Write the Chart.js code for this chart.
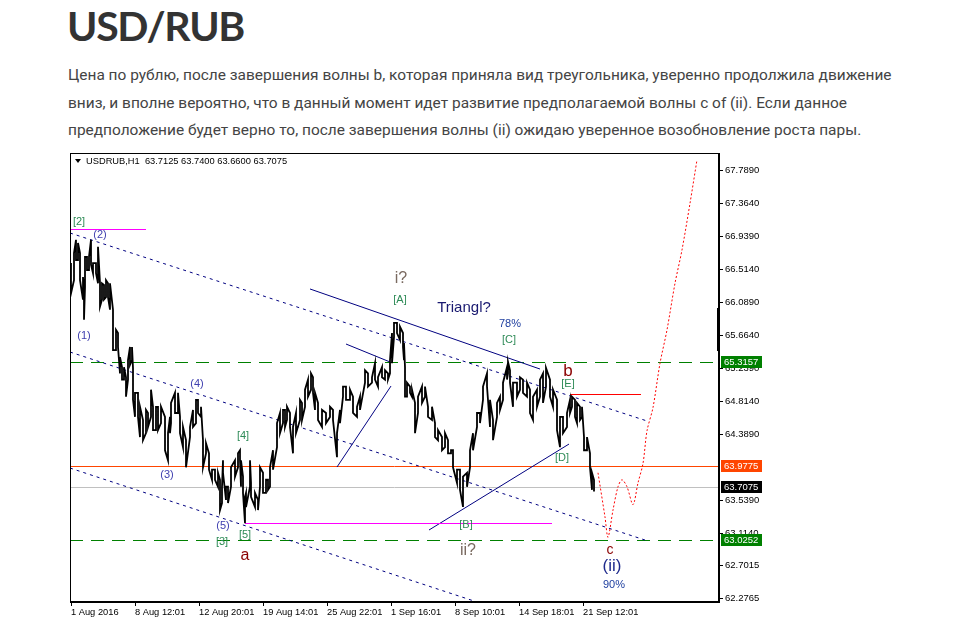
<!DOCTYPE html>
<html>
<head>
<meta charset="utf-8">
<script src="https://cdn.jsdelivr.net/npm/chart.js@4.4.0/dist/chart.umd.min.js"></script>
<style>
  body { margin: 0; background: #fff; width: 961px; height: 627px; overflow: hidden; position: relative; }
  h1 { position: absolute; left: 67px; top: 5px; margin: 0; font: 700 41px/41px Lato, sans-serif; color: #333; letter-spacing: -1.3px; }
  .txt { position: absolute; left: 68px; top: 62px; margin: 0; font: 15.45px/27.5px Roboto, sans-serif; color: #444; white-space: nowrap; }
  #wrap { position: absolute; left: 60px; top: 145px; width: 780px; height: 482px; }
</style>
</head>
<body>
<h1>USD/RUB</h1>
<p class="txt">Цена по рублю, после завершения волны b, которая приняла вид треугольника, уверенно продолжила движение<br>вниз, и вполне вероятно, что в данный момент идет развитие предполагаемой волны c of (ii). Если данное<br>предположение будет верно то, после завершения волны (ii) ожидаю уверенное возобновление роста пары.</p>
<div id="wrap"><canvas id="chart" width="780" height="482"></canvas></div>
<script>
// ---- price bars (H1, sampled): bar index, high, low ----
const barIdx = [0,3,5,7,9,12,13,14,16,18,20,22,25,27,29,31,33,35,37,39,42,45,47,49,51,53,55,57,59,61,62,64,67,69,72,75,77,80,82,85,87,90,94,97,99,100,104,107,109,112,115,119,122,125,127,130,132,135,138,141,144,147,149,151,152,155,157,160,164,167,169,170,172,174,175,179,180,184,187,189,192,195,197,199,202,206,209,212,214,216,219,222,225,229,231,234,237,240,242,244,247,251,255,259,262,266,269,272,275,279,282,286,289,294,297,301,304,307,311,314,317,319,321,323,326,329,332,333,334,336,339,341,344,347,351,354,357,361,364,367,371,374,377,380,382,386,389,392,396,399,402,406,409,412,416,419,422,426,429,432,436,437,439,442,446,449,452,456,459,462,466,469,472,475,479,482,486,489,492,496,499,501,504,506,509,511,513,516,519,521,523];
const barHigh = [66.59,66.72,66.89,66.85,66.72,66.41,66.24,66.67,66.67,66.67,66.89,66.59,66.59,66.80,66.33,66.33,66.31,66.37,66.33,66.33,65.99,65.73,65.69,65.38,65.25,65.25,65.12,65.34,65.51,65.51,65.24,64.92,64.92,64.74,64.57,64.70,64.66,64.96,64.74,64.74,64.74,64.74,64.61,64.40,64.61,64.79,64.92,64.92,64.61,64.48,64.31,64.48,64.70,64.83,64.83,64.74,64.31,64.27,64.14,63.93,63.93,63.89,63.80,63.71,64.05,63.71,63.71,63.96,64.05,64.14,64.18,64.05,63.84,63.58,63.63,64.05,63.76,63.63,63.54,63.96,63.89,63.80,63.80,63.96,64.18,64.53,64.66,64.70,64.70,64.74,64.66,64.48,64.66,64.83,64.79,64.96,65.09,65.17,65.12,64.92,64.79,64.70,64.66,64.74,64.70,64.40,64.70,65.00,65.00,64.96,64.87,64.74,64.87,65.21,65.17,65.12,65.30,65.12,65.25,65.21,65.17,65.34,65.69,65.82,65.82,65.77,65.69,65.56,65.25,65.05,65.00,64.96,64.79,64.87,65.00,65.00,64.74,64.74,64.53,64.44,64.35,64.40,64.31,64.18,64.18,63.93,63.93,63.84,63.89,64.18,64.40,64.66,64.66,65.00,65.17,64.83,64.57,64.79,64.87,65.05,65.25,65.32,65.21,65.05,65.05,65.12,65.09,65.05,64.96,64.87,64.96,65.09,65.17,65.24,65.09,64.96,64.83,64.61,64.61,64.66,64.83,64.87,64.83,64.79,64.74,64.74,64.35,64.35,64.14,63.89,63.80];
const barLow = [66.20,66.37,66.63,66.63,66.37,66.12,65.86,66.28,66.50,66.50,66.57,66.46,66.46,66.33,66.03,66.12,66.12,66.15,66.15,65.99,65.47,65.47,65.51,65.17,65.09,65.09,64.87,65.09,65.28,65.34,64.83,64.61,64.61,64.35,64.31,64.40,64.48,64.61,64.44,64.44,64.44,64.53,64.18,64.05,64.40,64.53,64.66,64.66,64.40,64.22,63.96,64.35,64.48,64.53,64.66,64.61,63.96,64.14,63.93,63.80,63.80,63.71,63.41,63.50,63.89,63.54,63.50,63.71,63.84,63.96,64.05,63.71,63.63,63.24,63.45,63.71,63.58,63.45,63.41,63.71,63.63,63.63,63.67,63.71,63.93,64.22,64.40,64.53,64.48,64.57,64.48,64.14,64.40,64.57,64.57,64.74,64.87,64.96,64.92,64.70,64.57,64.48,64.53,64.61,64.57,64.09,64.53,64.87,64.83,64.83,64.66,64.61,64.70,65.05,65.00,65.05,65.09,65.00,65.12,65.09,65.09,65.17,65.30,65.64,65.69,65.60,65.51,65.34,64.87,64.87,64.92,64.87,64.40,64.66,64.79,64.87,64.61,64.57,64.35,64.31,64.18,64.22,64.14,64.14,63.96,63.76,63.67,63.45,63.71,63.96,64.18,64.48,64.53,64.83,65.00,64.48,64.31,64.61,64.70,64.83,65.09,65.17,65.05,64.74,64.87,64.96,64.92,64.87,64.66,64.57,64.74,64.87,64.79,65.00,64.87,64.74,64.44,64.22,64.40,64.48,64.66,64.74,64.61,64.53,64.57,64.61,64.18,64.18,63.96,63.67,63.65];

// ---- forecast path (red dotted) ----
const fcIdx   = [527,534,537,542,547,551,556,562,567,572,576,582,589,596,604,611,619,626];
const fcPrice = [63.89,63.32,63.06,63.41,63.71,63.80,63.71,63.48,63.76,64.01,64.43,64.73,65.30,65.73,66.33,66.76,67.36,67.92];

// ---- axes ----
const yTicks = [67.7890,67.3640,66.9390,66.5140,66.0890,65.6640,65.2390,64.8140,64.3890,63.5390,63.1140,62.7015,62.2765];
const xTickIdx = [0,64,128,192,256,320,384,448,512];
const xTickLabels = ['1 Aug 2016','8 Aug 12:01','12 Aug 20:01','19 Aug 14:01','25 Aug 22:01','1 Sep 16:01','8 Sep 10:01','14 Sep 18:01','21 Sep 12:01'];

// ---- horizontal levels ----
const levelPrice = [65.3157, 63.9775, 63.7075, 63.0252];
const levelColor = ['#008000', '#ff4500', '#c0c0c0', '#008000'];
const levelDash  = [[13,8], [], [], [13,8]];
const levelTagBg = ['#008000', '#ff4500', '#000000', '#008000'];

// ---- trend lines: x1, p1, x2, p2 ----
const lineX1 = [-1, -1, -1, 239, 275, 266, 358, -1, 174, 499];
const lineP1 = [66.978, 65.445, 63.951, 66.257, 65.548, 63.964, 63.153, 67.029, 63.243, 64.904];
const lineX2 = [576, 574, 406, 469, 319, 320, 498, 75, 481, 570];
const lineP2 = [64.557, 63.024, 62.226, 65.226, 65.317, 65.007, 64.260, 67.029, 63.243, 64.904];
const lineColor = ['#000080','#000080','#000080','#000080','#000080','#000080','#000080','#ff00ff','#ff00ff','#ff0000'];
const lineDotted = [true, true, true, false, false, false, false, false, false, false];

// ---- wave labels ----
const lblText  = ['[2]','(2)','(1)','(3)','(4)','(5)','[3]','[4]','[5]','a','i?','[A]','Triangl?','78%','[C]','b','[E]','[D]','[B]','ii?','c','(ii)','90%'];
const lblIdx   = [8, 29, 13, 96, 126, 152, 151, 172, 174, 174, 330, 329, 393, 439, 438, 497, 497, 491, 395, 397, 539, 541, 543];
const lblPrice = [67.119, 66.952, 65.651, 63.861, 65.033, 63.204, 62.998, 64.363, 63.089, 62.818, 66.385, 66.115, 66.012, 65.806, 65.600, 65.200, 65.033, 64.080, 63.217, 62.883, 62.895, 62.689, 62.445];
const lblColor = ['#2e8b57','#4040b0','#4040b0','#4040b0','#4040b0','#4040b0','#2e8b57','#2e8b57','#2e8b57','#8b0000','#7a6a60','#2e8b57','#191970','#2040a0','#2e8b57','#8b0000','#2e8b57','#2e8b57','#2e8b57','#7a6a60','#8b0000','#1e2a8c','#2040a0'];
const lblSize  = [11, 11, 11, 11, 11, 11, 11, 11, 11, 16, 16, 11, 15, 11, 11, 17, 11, 11, 11, 16, 14, 17, 11];

// zigzag through high/low of each sampled bar
const pricePts = [];
barIdx.forEach((x, i) => {
  if (i % 2 === 0) pricePts.push({x: x, y: barHigh[i]}, {x: x, y: barLow[i]});
  else pricePts.push({x: x, y: barLow[i]}, {x: x, y: barHigh[i]});
});

const FONT = '"Liberation Sans", Arial, sans-serif';

const overlay = {
  id: 'overlay',
  beforeDatasetsDraw(chart) {
    const {ctx, chartArea: a, scales: {x, y}} = chart;
    ctx.save();
    ctx.beginPath();
    ctx.rect(a.left, a.top, a.right - a.left, a.bottom - a.top);
    ctx.clip();
    ctx.lineWidth = 1;
    levelPrice.forEach((p, i) => {
      const py = Math.round(y.getPixelForValue(p)) + 0.5;
      ctx.strokeStyle = levelColor[i];
      ctx.setLineDash(levelDash[i]);
      ctx.beginPath();
      ctx.moveTo(a.left, py);
      ctx.lineTo(a.right, py);
      ctx.stroke();
    });
    lineX1.forEach((x1, i) => {
      let y1 = y.getPixelForValue(lineP1[i]), y2 = y.getPixelForValue(lineP2[i]);
      if (lineP1[i] === lineP2[i]) { y1 = y2 = Math.round(y1) + 0.5; }  // crisp horizontals
      ctx.strokeStyle = lineColor[i];
      ctx.setLineDash(lineDotted[i] ? [3, 4] : []);
      ctx.beginPath();
      ctx.moveTo(x.getPixelForValue(x1), y1);
      ctx.lineTo(x.getPixelForValue(lineX2[i]), y2);
      ctx.stroke();
    });
    ctx.restore();
  },
  afterDraw(chart) {
    const {ctx, chartArea: a, scales: {x, y}} = chart;
    ctx.save();
    // frame
    ctx.strokeStyle = '#000';
    ctx.lineWidth = 1;
    ctx.strokeRect(a.left + 0.5, a.top + 0.5, a.right - a.left - 1, a.bottom - a.top - 1);
    // chart shift marker on the right edge
    ctx.fillStyle = '#000';
    const m1 = y.getPixelForValue(66.012), m2 = y.getPixelForValue(65.458);
    ctx.fillRect(a.right - 2, m1, 3, m2 - m1);
    // header
    ctx.font = '9.3px ' + FONT;
    ctx.textBaseline = 'middle';
    ctx.textAlign = 'left';
    ctx.beginPath();
    ctx.moveTo(a.left + 5, a.top + 6);
    ctx.lineTo(a.left + 11, a.top + 6);
    ctx.lineTo(a.left + 8, a.top + 10);
    ctx.closePath();
    ctx.fill();
    ctx.fillText('USDRUB,H1  63.7125 63.7400 63.6600 63.7075', a.left + 16, a.top + 8);
    // wave labels
    ctx.textAlign = 'center';
    lblText.forEach((t, i) => {
      ctx.font = lblSize[i] + 'px ' + FONT;
      ctx.fillStyle = lblColor[i];
      ctx.fillText(t, x.getPixelForValue(lblIdx[i]), y.getPixelForValue(lblPrice[i]));
    });
    // price tags on the axis
    ctx.font = '9.5px ' + FONT;
    ctx.textAlign = 'left';
    levelPrice.forEach((p, i) => {
      const py = Math.round(y.getPixelForValue(p));
      ctx.fillStyle = levelTagBg[i];
      ctx.fillRect(a.right + 2, py - 6, 41, 12);
      ctx.fillStyle = '#fff';
      ctx.fillText(p.toFixed(4), a.right + 5, py + 0.5);
    });
    ctx.restore();
  }
};

new Chart(document.getElementById('chart'), {
  type: 'line',
  data: {
    datasets: [
      {
        data: pricePts,
        borderColor: '#000',
        borderWidth: 1.8,
        pointRadius: 0,
        tension: 0
      },
      {
        data: fcIdx.map((v, i) => ({x: v, y: fcPrice[i]})),
        borderColor: '#ff0000',
        borderWidth: 1,
        borderDash: [2, 2],
        pointRadius: 0,
        tension: 0.3
      }
    ]
  },
  options: {
    responsive: false,
    animation: false,
    layout: { padding: { left: 10, top: 8, right: 0, bottom: 0 } },
    plugins: { legend: { display: false }, tooltip: { enabled: false } },
    scales: {
      x: {
        type: 'linear', min: -1, max: 648,
        afterBuildTicks: s => { s.ticks = xTickIdx.map(v => ({ value: v })); },
        afterFit: s => { s.height = 25; },
        ticks: {
          autoSkip: false, maxRotation: 0, align: 'start', padding: 1,
          color: '#000', font: { family: FONT, size: 9.3 },
          callback: (v, i) => xTickLabels[i]
        },
        grid: { drawOnChartArea: false, tickLength: 4, color: '#000' },
        border: { color: '#000' }
      },
      y: {
        type: 'linear', position: 'right', min: 62.226, max: 68.008,
        afterBuildTicks: s => { s.ticks = yTicks.map(v => ({ value: v })); },
        afterFit: s => { s.width = 121; },
        ticks: {
          autoSkip: false, padding: 2, color: '#000', font: { family: FONT, size: 9.5 },
          callback: v => Number(v).toFixed(4)
        },
        grid: { drawOnChartArea: false, tickLength: 4, color: '#000' },
        border: { color: '#000' }
      }
    }
  },
  plugins: [overlay]
});
</script>
</body>
</html>
